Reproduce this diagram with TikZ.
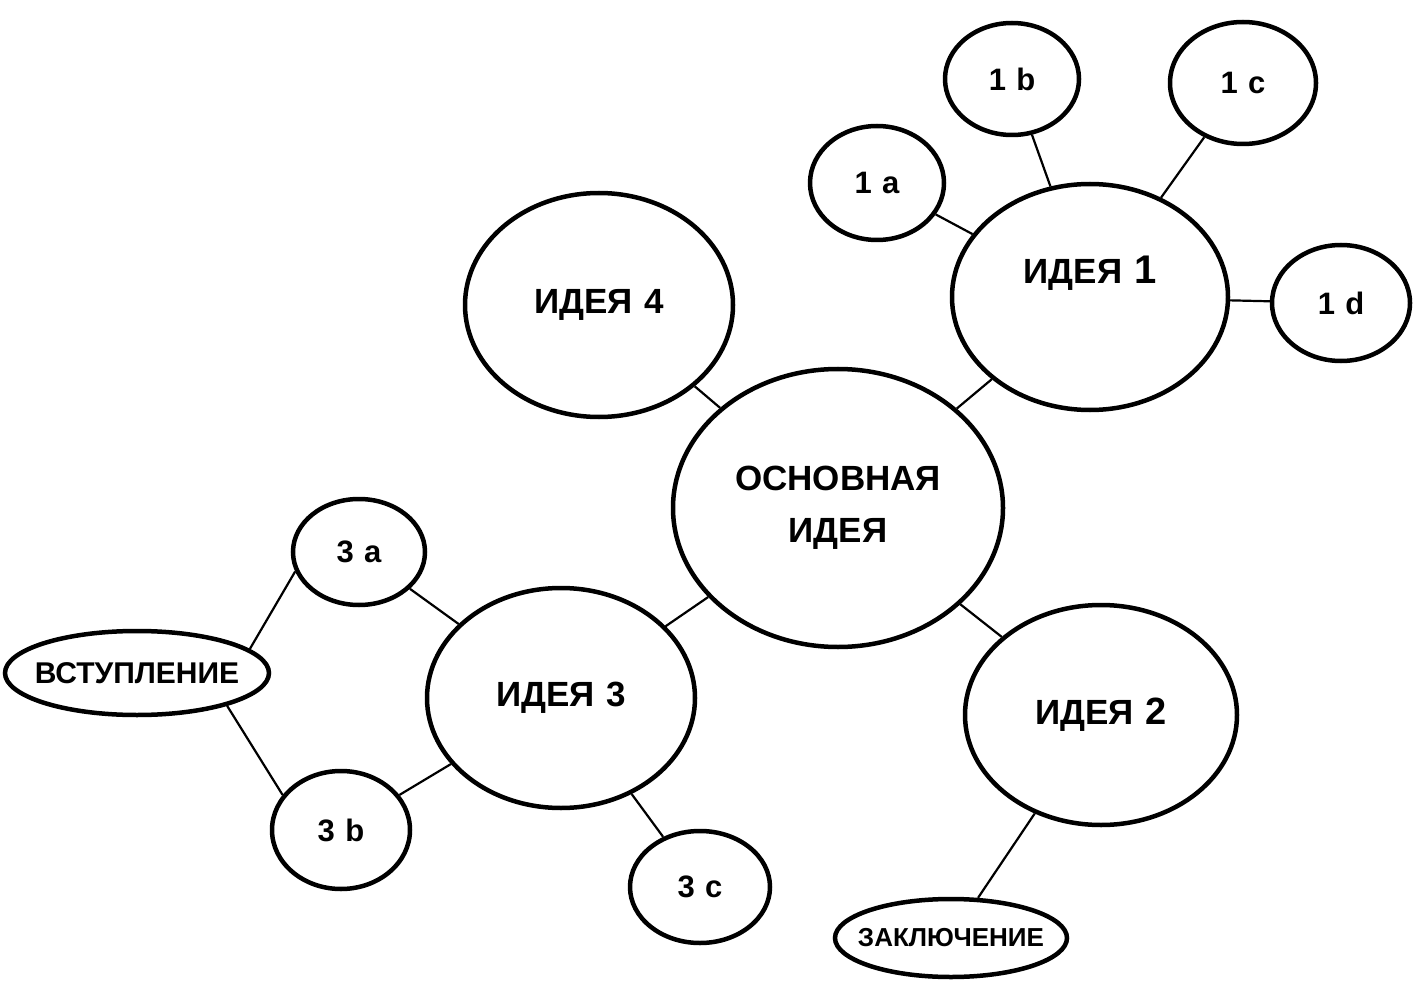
\documentclass[tikz,border=0pt]{standalone}
\usepackage{fontspec}
\setmainfont{Liberation Sans}
\usetikzlibrary{shapes.geometric}
\begin{document}
\begin{tikzpicture}[x=1pt,y=-1pt,
  bub/.style={draw=black,line width=4.5pt,ellipse,inner sep=0pt,font=\bfseries\fontsize{35}{40}\selectfont,align=center},
  sub/.style={draw=black,line width=4.5pt,ellipse,inner sep=0pt,font=\bfseries\fontsize{31}{34}\selectfont},
  oval/.style={draw=black,line width=4.5pt,ellipse,inner sep=0pt},
  link/.style={draw=black,line width=2.2pt}]
\useasboundingbox (0,0) rectangle (1414,992);
% main
\node[bub,minimum width=330pt,minimum height=278pt] (main) at (838,508) {ОСНОВНАЯ\\[12pt]ИДЕЯ};
\node[bub,minimum width=276pt,minimum height=226pt] (i1) at (1090,297) {\raisebox{13pt}[0pt][0pt]{ИДЕЯ\,\,\fontsize{40}{40}\selectfont 1}};
\node[bub,minimum width=268pt,minimum height=224pt] (i4) at (599,305) {ИДЕЯ\,\,4};
\node[bub,minimum width=272pt,minimum height=220pt] (i2) at (1101,715) {ИДЕЯ\,\,\fontsize{38}{38}\selectfont 2};
\node[bub,minimum width=268pt,minimum height=220pt] (i3) at (561,698) {ИДЕЯ\,\,3};
% subs
\node[sub,minimum width=134pt,minimum height=114pt] (a1) at (877,183) {1\,\,a};
\node[sub,minimum width=134pt,minimum height=112pt] (b1) at (1012,79) {1\,\,b};
\node[sub,minimum width=146pt,minimum height=122pt] (c1) at (1243,83) {1\,\,c};
\node[sub,minimum width=138pt,minimum height=116pt] (d1) at (1341,303) {1\,\,d};
\node[sub,minimum width=132pt,minimum height=106pt] (a3) at (359,552) {3\,\,a};
\node[sub,minimum width=138pt,minimum height=118pt] (b3) at (341,830) {3\,\,b};
\node[sub,minimum width=140pt,minimum height=112pt] (c3) at (700,887) {3\,\,c};
\node[oval,minimum width=264pt,minimum height=84pt,font=\bfseries\fontsize{30}{32}\selectfont] (intro) at (137,673) {\makebox[0pt]{ВСТУПЛЕНИЕ}};
\node[oval,minimum width=232pt,minimum height=78pt,font=\bfseries\fontsize{26}{28}\selectfont] (concl) at (951,938) {\makebox[0pt]{ЗАКЛЮЧЕНИЕ}};
% connectors
\draw[link] (main) -- (i1);
\draw[link] (main) -- (i4);
\draw[link] (main) -- (i2);
\draw[link] (main) -- (i3);
\draw[link] (i1) -- (a1);
\draw[link] (i1) -- (b1);
\draw[link] (i1) -- (c1);
\draw[link] (i1) -- (d1);
\draw[link] (i2) -- (concl);
\draw[link] (i3) -- (a3);
\draw[link] (i3) -- (b3);
\draw[link] (i3) -- (c3);
\draw[link] (intro.12) -- (a3.197);
\draw[link] (intro.-20) -- (b3.149);
\end{tikzpicture}
\end{document}
